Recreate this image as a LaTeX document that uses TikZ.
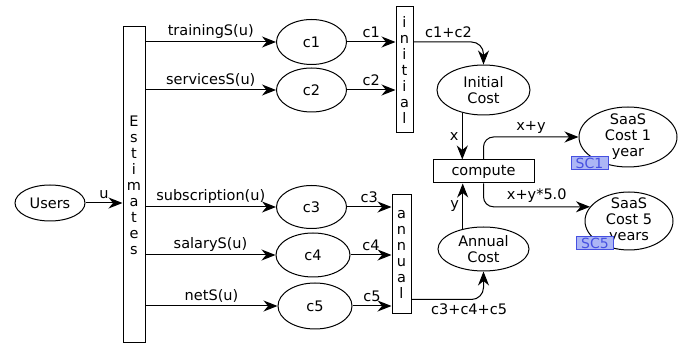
\documentclass[tikz,border=0pt]{standalone}
\usepackage{fontspec}
\setmainfont{DejaVu Sans}
\usetikzlibrary{shapes.geometric,arrows.meta}
\definecolor{tagblue}{RGB}{70,80,225}
\definecolor{tagfill}{RGB}{172,182,245}

\begin{document}
\begin{tikzpicture}[x=1pt,y=-1pt,
    font=\fontsize{14.5}{16}\selectfont, line width=1pt,
    place/.style={ellipse,draw,inner sep=0pt,align=center},
    trans/.style={rectangle,draw,inner sep=0pt,align=center},
    tag/.style={rectangle,draw=tagblue,fill=tagfill,text=tagblue,inner sep=0pt,
      minimum width=37pt,minimum height=13pt,font=\fontsize{14}{14}\selectfont},
    flow/.style={-{Stealth[length=14pt,width=11pt,inset=4.5pt]}}]
    \useasboundingbox (0,0) rectangle (686,347);
    % places
    \node[place,minimum width=70pt,minimum height=36pt] (users) at (50,203) {Users};
    \node[place,minimum width=70pt,minimum height=45pt] (c1) at (311.5,42) {c1};
    \node[place,minimum width=70pt,minimum height=44pt] (c2) at (311.5,90) {c2};
    \node[place,minimum width=70pt,minimum height=43pt] (c3) at (311.5,207) {c3};
    \node[place,minimum width=74pt,minimum height=44pt] (c4) at (313,255) {c4};
    \node[place,minimum width=74pt,minimum height=46pt] (c5) at (315,306) {c5};
    \node[place,minimum width=93pt,minimum height=50pt] (ic) at (483.5,90) {Initial\\Cost};
    \node[place,minimum width=91pt,minimum height=44pt] (ac) at (483.5,249) {Annual\\Cost};
    \node[place,inner sep=-3pt,minimum width=98pt,minimum height=60pt] (sc1) at (628,137) {SaaS\\Cost 1\\year};
    \node[place,inner sep=-3pt,minimum width=88pt,minimum height=58pt] (sc5) at (629,221) {SaaS\\Cost 5\\years};
    % transitions
    \node[trans,minimum width=22pt,minimum height=316pt] (est) at (134,185) {E\\s\\t\\i\\m\\a\\t\\e\\s};
    \node[trans,minimum width=17pt,minimum height=126pt] (ini) at (404.5,70) {i\\n\\i\\t\\i\\a\\l};
    \node[trans,minimum width=19pt,minimum height=119pt] (ann) at (401.5,254.5) {a\\n\\n\\u\\a\\l};
    \node[trans,minimum width=101pt,minimum height=23pt] (cmp) at (483.5,171.5) {compute};
    % tags
    \node[tag] (sc1tag) at (589.5,163.5) {SC1};
    \node[tag] (sc5tag) at (595,243.5) {SC5};
    % arcs
    \draw[flow] (users) -- node[above] {u} (est.west |- users);
    \draw[flow] (est.east |- c1) -- node[above] {trainingS(u)} (c1);
    \draw[flow] (est.east |- c2) -- node[above] {servicesS(u)} (c2);
    \draw[flow] (est.east |- c3) -- node[above] {subscription(u)} (c3);
    \draw[flow] (est.east |- c4) -- node[above] {salaryS(u)} (c4);
    \draw[flow] (est.east |- c5) -- node[above] {netS(u)} (c5);
    \draw[flow] (c1) -- node[above] {c1} (ini.west |- c1);
    \draw[flow] (c2) -- node[above] {c2} (ini.west |- c2);
    \draw[flow] (c3) -- node[above] {c3} (ann.west |- c3);
    \draw[flow] (c4) -- node[above] {c4} (ann.west |- c4);
    \draw[flow] (c5) -- node[above] {c5} (ann.west |- c5);
    \draw[flow,rounded corners=12pt] (ini.east |- c1) -| node[pos=.25,above] {c1+c2} (ic);
    \draw[flow,rounded corners=12pt] ([yshift=15pt]ann.south east) -| node[pos=.4,below] {c3+c4+c5} (ac);
    \draw[flow] (ic.227) -- node[left] {x} (ic.227 |- cmp.north);
    \draw[flow] (ac.136) -- node[left] {y} (ac.136 |- cmp.south);
    \draw[flow,rounded corners=10pt] (cmp.north) |- node[pos=.75,above] {x+y} (sc1);
    \draw[flow,rounded corners=10pt] (cmp.south) |- node[pos=.75,above] {x+y*5.0} (sc5.160);
\end{tikzpicture}
\end{document}
